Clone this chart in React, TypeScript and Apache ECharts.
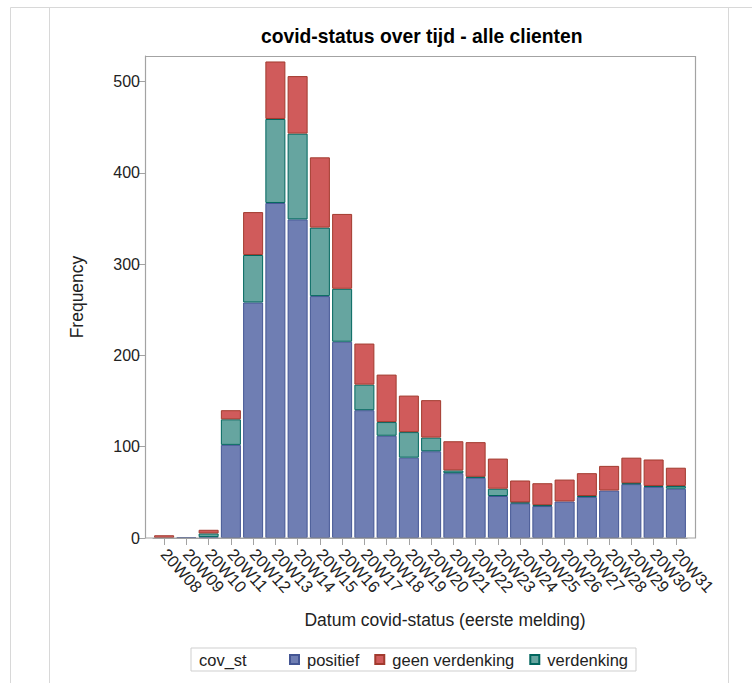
import React, { useEffect, useRef } from "react";
import * as echarts from "echarts";

const categories = [
  "20W08", "20W09", "20W10", "20W11", "20W12", "20W13", "20W14", "20W15",
  "20W16", "20W17", "20W18", "20W19", "20W20", "20W21", "20W22", "20W23",
  "20W24", "20W25", "20W26", "20W27", "20W28", "20W29", "20W30", "20W31",
];
const positief = [0, 1, 1, 102, 258, 367, 349, 265, 215, 140, 112, 88, 95, 71, 66, 46, 38, 35, 40, 45, 52, 59, 56, 54];
const verdenking = [0, 0, 4, 28, 52, 92, 94, 75, 58, 28, 15, 28, 15, 3, 1, 8, 1, 1, 0, 1, 0, 1, 1, 3];
const geenVerdenking = [3, 0, 4, 10, 47, 63, 63, 77, 82, 45, 52, 40, 41, 32, 38, 33, 24, 24, 24, 25, 27, 28, 29, 20];
const yTicks = [0, 100, 200, 300, 400, 500];

const FONT = "'Liberation Sans', Arial, sans-serif";
const nz = (arr: number[]) => arr.map((v) => (v === 0 ? null : v));

export default function App() {
  const ref = useRef<HTMLDivElement>(null);
  useEffect(() => {
    if (!ref.current) return;
    const chart = echarts.init(ref.current, undefined, { renderer: "svg" });
    const frameColor = "#a3a3a3";
    const pageLine = "#d8d8d8";
    const bar = (name: string, data: number[], fill: string, border: string) => ({
      name,
      type: "bar",
      stack: "total",
      barWidth: "90%",
      data: nz(data),
      itemStyle: { color: fill, borderColor: border, borderWidth: 1 },
      emphasis: { disabled: true },
    });
    chart.setOption({
      animation: false,
      backgroundColor: "#ffffff",
      textStyle: { fontFamily: FONT },
      title: {
        text: "covid-status over tijd - alle clienten",
        left: 261,
        top: 27,
        padding: 0,
        textStyle: { fontFamily: FONT, fontSize: 19.3, fontWeight: "bold", color: "#000" },
      },
      grid: { left: 153, right: 65, top: 56, bottom: 145, containLabel: false },
      xAxis: {
        type: "category",
        data: categories,
        name: "Datum covid-status (eerste melding)",
        nameLocation: "middle",
        nameGap: 73,
        nameTextStyle: { fontFamily: FONT, fontSize: 17.5, color: "#222", padding: [0, 0, 0, 50] },
        axisLine: { show: true, lineStyle: { color: frameColor } },
        axisTick: { show: true, alignWithLabel: true, length: 7, lineStyle: { color: frameColor } },
        axisLabel: { interval: 0, rotate: -48, fontFamily: FONT, fontSize: 16.5, color: "#222", margin: 13 },
      },
      yAxis: {
        type: "value",
        min: 0,
        max: 528,
        interval: 100,
        offset: 8,
        name: "Frequency",
        nameLocation: "middle",
        nameGap: 59,
        nameTextStyle: { fontFamily: FONT, fontSize: 17.5, color: "#222" },
        splitLine: { show: false },
        axisLine: { show: true, lineStyle: { color: frameColor } },
        axisTick: { show: true, length: 7, lineStyle: { color: frameColor }, customValues: yTicks },
        axisLabel: { fontFamily: FONT, fontSize: 16, color: "#222", margin: 5, customValues: yTicks },
      },
      legend: {
        data: ["positief", "geen verdenking", "verdenking"],
        left: 191,
        top: 648,
        orient: "horizontal",
        padding: [3, 8, 3, 98],
        borderColor: "#cfcfcf",
        borderWidth: 1,
        itemWidth: 9,
        itemHeight: 9,
        itemGap: 15,
        icon: "rect",
        selectedMode: false,
        textStyle: { fontFamily: FONT, fontSize: 16.5, color: "#222", padding: [0, 0, 0, 3] },
      },
      graphic: [
        { type: "line", shape: { x1: 10.5, y1: 7.5, x2: 752, y2: 7.5 }, style: { stroke: pageLine, lineWidth: 1 }, silent: true },
        { type: "line", shape: { x1: 10.5, y1: 7.5, x2: 10.5, y2: 683 }, style: { stroke: pageLine, lineWidth: 1 }, silent: true },
        { type: "line", shape: { x1: 49.5, y1: 7.5, x2: 49.5, y2: 683 }, style: { stroke: pageLine, lineWidth: 1 }, silent: true },
        { type: "line", shape: { x1: 728.5, y1: 7.5, x2: 728.5, y2: 683 }, style: { stroke: pageLine, lineWidth: 1 }, silent: true },
        {
          type: "rect",
          shape: { x: 145.5, y: 56.5, width: 550, height: 481.5 },
          style: { fill: "none", stroke: frameColor, lineWidth: 1.2 },
          z: 100,
          silent: true,
        },
        {
          type: "text",
          x: 199,
          y: 660,
          style: { text: "cov_st", fontFamily: FONT, fontSize: 16.5, fill: "#222", textVerticalAlign: "middle", verticalAlign: "middle" },
          z: 100,
          silent: true,
        },
      ],
      series: [
        bar("positief", positief, "#6F7EB3", "#445694"),
        bar("verdenking", verdenking, "#66A5A0", "#01665E"),
        bar("geen verdenking", geenVerdenking, "#D05B5B", "#A23A2E"),
      ],
    });
    return () => chart.dispose();
  }, []);
  return <div ref={ref} style={{ position: "absolute", left: 0, top: 0, width: 752, height: 683 }} />;
}
